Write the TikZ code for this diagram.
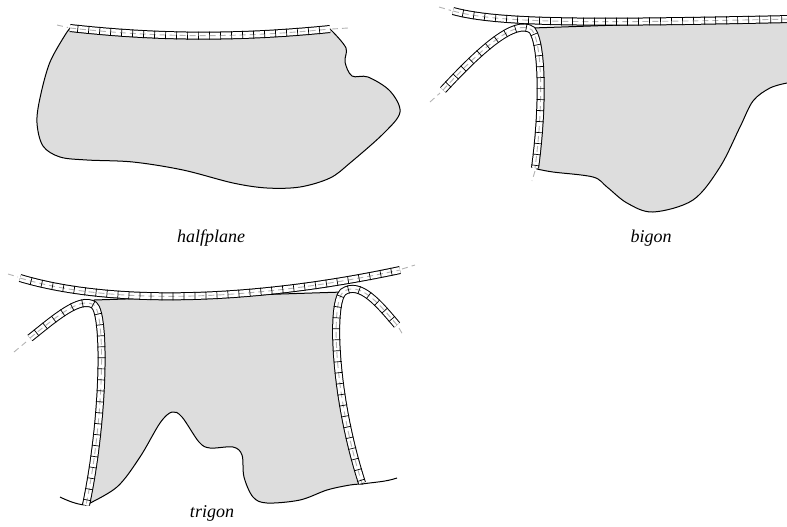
\documentclass[tikz,border=0pt]{standalone}
\usepackage{fontspec}
\setmainfont{Liberation Serif}
\usetikzlibrary{decorations.markings}

\begin{document}
\begin{tikzpicture}[
	x=0.5pt, y=-0.5pt,
	region/.style={draw=black, line width=0.5pt, fill=gray!27},
	rim/.style={draw=black, line width=0.5pt},
	band/.style={
		preaction={draw=black, solid, line width=4pt},
		preaction={draw=white, solid, line width=3pt},
		postaction={draw=gray!60, line width=0.45pt, dash pattern=on 3pt off 2pt},
		postaction={decorate, decoration={markings,
				mark=between positions 0.03 and 1 step 5.5pt with {\draw[solid, black, line width=0.35pt] (0,-2pt) -- (0,2pt);}}}},
	tail/.style={draw=gray!60, line width=0.45pt, dash pattern=on 3pt off 2pt},
	lbl/.style={anchor=base, font=\fontsize{9}{11}\selectfont\itshape}
	]
	\useasboundingbox (0,0) rectangle (787,526);
	
	% halfplane
	\draw[region] (70,28) .. controls (160,38) and (240,38) .. (330,29)
	-- plot[smooth, tension=0.55] coordinates {(333,32) (346,48) (345,62) (352,76) (368,77) (390,91) (400,112) (384,133) (350,163) (330,178) (300,187) (267,188) (233,183) (183,170) (133,162) (87,160) (60,157) (43,146) (37,123) (40,98) (50,62) (67,32)} -- cycle;
	\path[band] (70,28) .. controls (160,38) and (240,38) .. (330,29);
	\draw[tail] (57,25) -- (68,27.5);
	\draw[tail] (332,29) -- (348,28);
	\node[lbl] (halfplane) at (211,242) {halfplane};
	
	% bigon
	\draw[region] (532,28) -- (795,19) -- (795,83)
	-- plot[smooth, tension=0.55] coordinates {(787,83) (770,88) (753,101) (740,127) (720,167) (693,200) (653,212) (627,203) (607,187) (593,177) (553,172) (537,169)}
	.. controls (543,110) and (543,45) .. (532,28) -- cycle;
	\path[band] (443,90) .. controls (480,50) and (515,18) .. (532,30) .. controls (543,45) and (543,110) .. (535,168);
	\path[band] (453,11) .. controls (500,24) and (600,23) .. (792,19);
	\draw[tail] (430,102) -- (440,93);
	\draw[tail] (535,171) -- (532,181);
	\draw[tail] (439,7) -- (451,10.5);
	\node[lbl] (bigon) at (651,242) {bigon};
	
	% trigon
	\draw[region] (94,300) -- (343,292) .. controls (330,305) and (335,400) .. (362,483)
	-- plot[smooth, tension=0.55] coordinates {(362,484) (350,485) (327,490) (300,500) (267,503) (253,497) (244,477) (242,455) (233,447) (210,448) (199,442) (182,417) (172,412) (160,423) (140,457) (117,487) (86,505)}
	.. controls (104,420) and (106,315) .. (94,305) -- cycle;
	\draw[rim] (60,497) .. controls (70,502) and (80,505) .. (86,505);
	\draw[rim] (362,484) .. controls (375,482) and (385,482) .. (397,478);
	\path[band] (30,338) .. controls (55,318) and (80,296) .. (94,305) .. controls (106,315) and (104,420) .. (86,505);
	\path[band] (397,325) .. controls (380,305) and (360,280) .. (343,292) .. controls (330,305) and (335,400) .. (362,483);
	\path[band] (20,278) .. controls (110,305) and (250,302) .. (400,270);
	\draw[tail] (14,352) -- (26,342);
	\draw[tail] (8,274) -- (18,277);
	\draw[tail] (402,269) -- (415,265);
	\draw[tail] (399,328) -- (403,335);
	\node[lbl] (trigon) at (212,517) {trigon};
\end{tikzpicture}
\end{document}
